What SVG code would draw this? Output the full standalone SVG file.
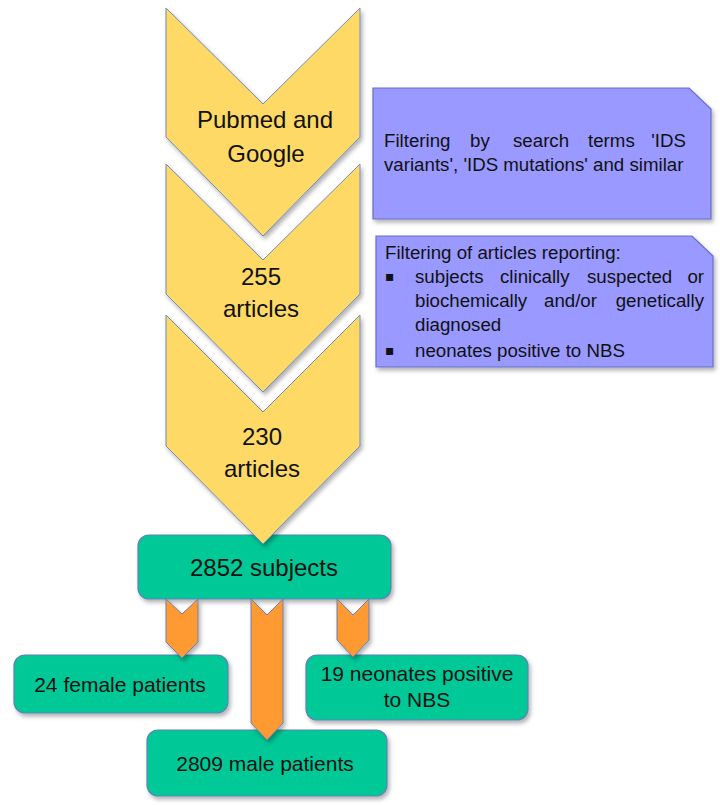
<svg xmlns="http://www.w3.org/2000/svg" width="720" height="805" viewBox="0 0 720 805">
<defs>
<filter id="sh" x="-10%" y="-10%" width="130%" height="130%">
<feDropShadow dx="2" dy="3" stdDeviation="2" flood-color="#000" flood-opacity="0.3"/>
</filter>
<style>
.chev{fill:#FFD966;stroke:#6F8DBD;stroke-width:1;filter:url(#sh)}
.note{fill:#9999FF;stroke:#6670C8;stroke-width:1.2;filter:url(#sh)}
.box{fill:#00C896;stroke:#5F82B8;stroke-width:1.2;filter:url(#sh)}
.arr{fill:#FF9933;stroke:#6F80B0;stroke-width:1;filter:url(#sh)}
text{font-family:"Liberation Sans",Arial,sans-serif;fill:#111}
.big{font-size:24px;text-anchor:middle}
.mid{font-size:21px;text-anchor:middle}
.sm{font-size:18.7px}
.bul{font-family:"DejaVu Sans",sans-serif;font-size:14px}
</style>
</defs>
<rect width="720" height="805" fill="#fff"/>

<g id="note1">
<polygon class="note" points="373,88 689,88 711,109 711,219 373,219"/>
<text class="sm" y="147"><tspan x="384">Filtering</tspan><tspan x="470">by</tspan><tspan x="513">search</tspan><tspan x="588">terms</tspan><tspan x="686" text-anchor="end">'IDS</tspan></text>
<text class="sm" x="384" y="171">variants', 'IDS mutations' and similar</text>
</g>

<g id="note2">
<polygon class="note" points="376,236 692,236 713,256 713,367 376,367"/>
<text class="sm" x="385" y="259">Filtering of articles reporting:</text>
<text class="bul" x="385" y="281">▪</text>
<text class="sm" y="283"><tspan x="415">subjects</tspan><tspan x="500">clinically</tspan><tspan x="587">suspected</tspan><tspan x="704" text-anchor="end">or</tspan></text>
<text class="sm" y="307"><tspan x="415">biochemically</tspan><tspan x="544">and/or</tspan><tspan x="704" text-anchor="end">genetically</tspan></text>
<text class="sm" x="415" y="331">diagnosed</text>
<text class="bul" x="385" y="355">▪</text>
<text class="sm" x="415" y="357">neonates positive to NBS</text>
</g>

<g id="chev1">
<polygon class="chev" points="166,8 263,104 360,8 360,137 263,236 166,137"/>
<text class="big" x="265" y="128">Pubmed and</text>
<text class="big" x="266" y="162">Google</text>
</g>
<g id="chev2">
<polygon class="chev" points="166,164 263,260 360,164 360,294 263,392 166,294"/>
<text class="big" x="261" y="285">255</text>
<text class="big" x="261" y="317">articles</text>
</g>

<g id="subjects">
<rect class="box" x="138" y="535" width="253" height="64" rx="11"/>
<text class="big" x="264" y="576">2852 subjects</text>
</g>

<g id="chev3">
<polygon class="chev" points="166,315 263,412 360,315 360,446 263,544 166,446"/>
<text class="big" x="262" y="445">230</text>
<text class="big" x="262" y="477">articles</text>
</g>

<g id="female">
<rect class="box" x="14" y="655" width="214" height="58" rx="11"/>
<text class="mid" x="120" y="692">24 female patients</text>
</g>
<g id="male">
<rect class="box" x="147" y="730" width="240" height="66" rx="11"/>
<text class="mid" x="265" y="771">2809 male patients</text>
</g>
<g id="neonates">
<rect class="box" x="306" y="655" width="222" height="65" rx="11"/>
<text class="mid" x="417" y="681">19 neonates positive</text>
<text class="mid" x="417" y="707">to NBS</text>
</g>

<g id="connectors">
<polygon class="arr" points="166,599 182,614 198,599 198,642 182,658 166,642"/>
<polygon class="arr" points="251,599 267,615 283,599 283,723 267,740 251,723"/>
<polygon class="arr" points="337,599 353,615 369,599 369,640 353,657 337,640"/>
</g>
</svg>
